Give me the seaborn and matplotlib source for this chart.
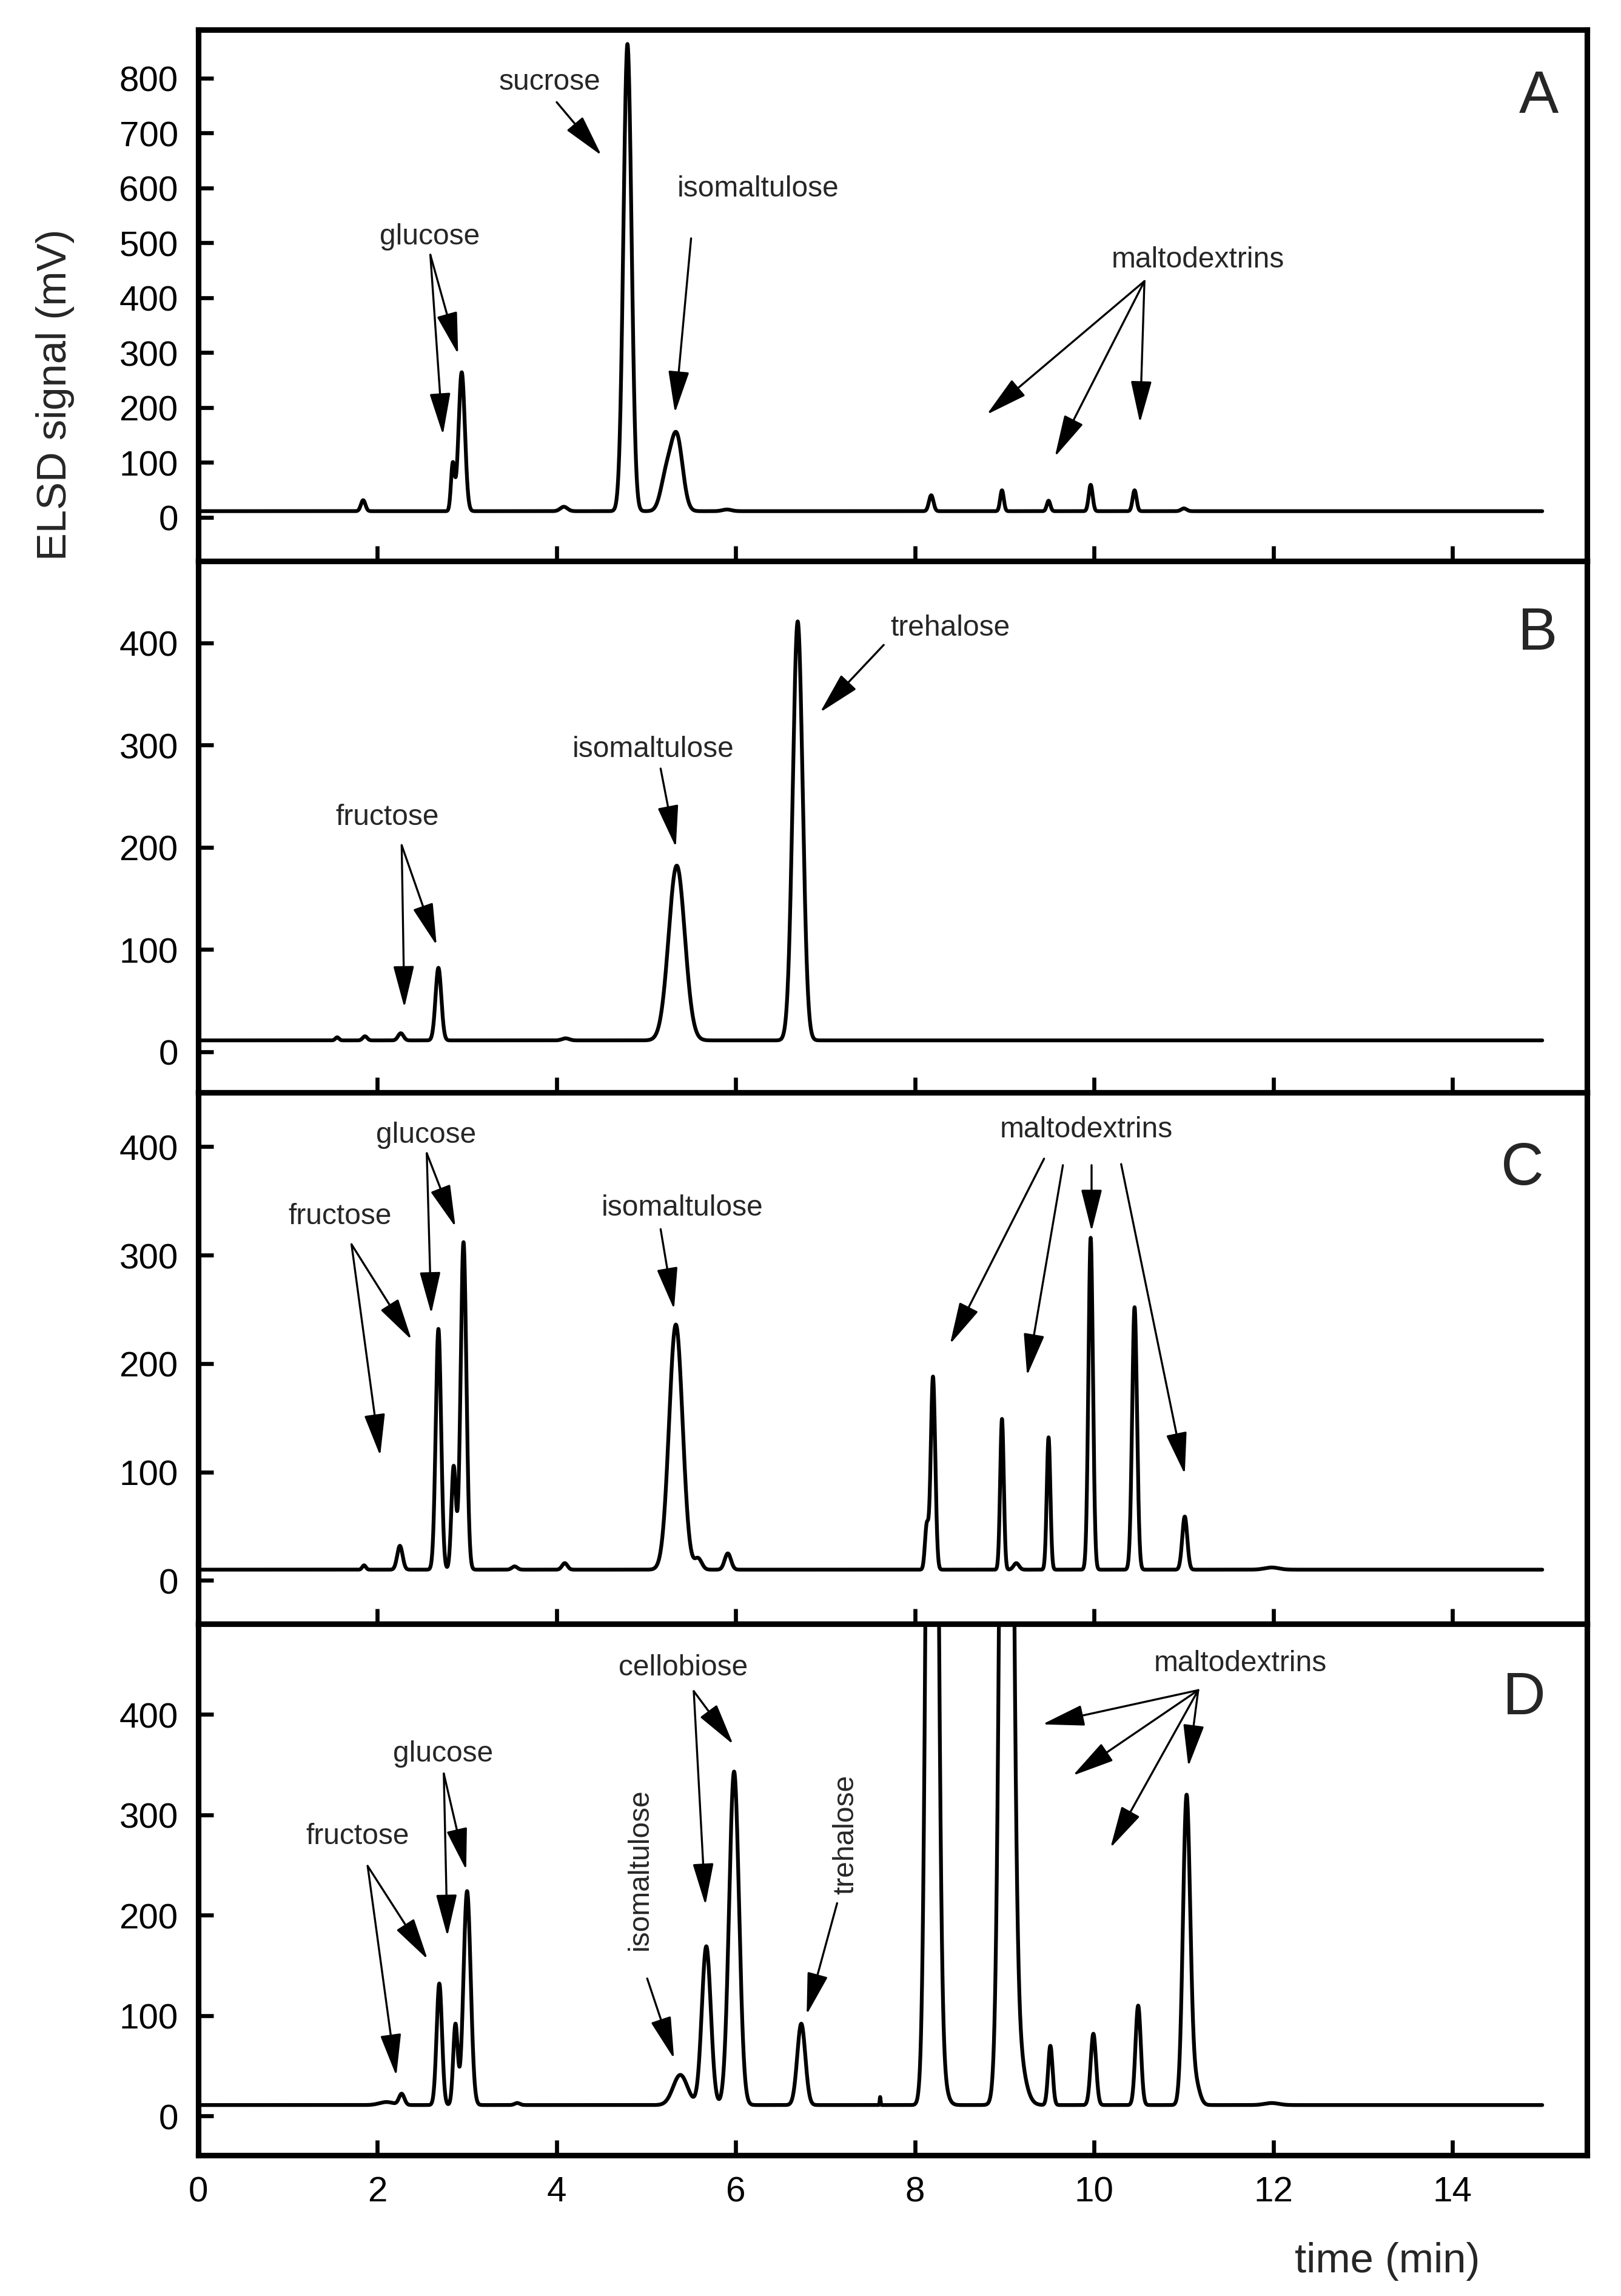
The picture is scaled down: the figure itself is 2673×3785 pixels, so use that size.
import numpy as np
import pandas as pd
import matplotlib
matplotlib.use("Agg")
import matplotlib.pyplot as plt
import seaborn as sns

# ---------------- data ----------------
# each peak: retention time (min), height above baseline (mV), peak sigma (min)
A_rt     = [1.84, 2.84, 2.94, 4.08, 4.79, 5.22, 5.34, 5.90, 8.18, 8.97, 9.49, 9.96, 10.45, 11.00]
A_height = [20, 85, 253, 8, 851, 60, 135, 3, 29, 38, 19, 48, 38, 5]
A_sigma  = [0.025, 0.02, 0.035, 0.04, 0.045, 0.06, 0.065, 0.05, 0.025, 0.02, 0.02, 0.022, 0.022, 0.03]
A_baseline = 11

B_rt     = [1.55, 1.86, 2.26, 2.68, 4.10, 5.34, 6.69]
B_height = [3, 4, 7, 71, 2, 171, 410]
B_sigma  = [0.02, 0.025, 0.03, 0.032, 0.04, 0.09, 0.055]
B_baseline = 11

C_rt     = [1.85, 2.25, 2.68, 2.85, 2.96, 3.53, 4.09, 5.33, 5.58, 5.91,
            8.13, 8.20, 8.97, 9.13, 9.49, 9.96, 10.45, 11.01, 11.98]
C_height = [4, 22, 222, 95, 302, 3, 6, 226, 10, 15,
            40, 178, 139, 6, 122, 306, 242, 49, 2]
C_sigma  = [0.02, 0.03, 0.03, 0.025, 0.032, 0.03, 0.03, 0.075, 0.04, 0.035,
            0.02, 0.025, 0.02, 0.03, 0.02, 0.025, 0.027, 0.028, 0.08]
C_baseline = 10

D_rt     = [2.10, 2.27, 2.69, 2.87, 3.00, 3.56, 5.38, 5.67, 5.98, 6.73, 7.61,
            8.19, 8.28, 9.02, 9.10, 9.51, 9.99, 10.49, 11.03, 11.12, 11.98]
D_height = [3, 11, 121, 80, 213, 2, 30, 158, 332, 81, 8,
            1500, 30, 1500, 80, 59, 71, 99, 304, 25, 2]
D_sigma  = [0.08, 0.03, 0.03, 0.025, 0.04, 0.03, 0.08, 0.05, 0.055, 0.045, 0.005,
            0.05, 0.06, 0.055, 0.09, 0.025, 0.03, 0.03, 0.04, 0.05, 0.08]
D_baseline = 11

run_end = 15.0          # min, end of recorded trace
x_ticks = [0, 2, 4, 6, 8, 10, 12, 14]
panel_letters = ["A", "B", "C", "D"]

# ---------------- build traces ----------------
time = np.arange(0.0, run_end + 1e-9, 0.002)

def trace(rt, h, s, base):
    y = np.full_like(time, float(base))
    for t0, hh, ss in zip(rt, h, s):
        y += hh * np.exp(-0.5 * ((time - t0) / ss) ** 2)
    return y

panels = [
    dict(df=pd.DataFrame({"time": time, "signal": trace(A_rt, A_height, A_sigma, A_baseline)}),
         ylim=(-80, 888), yticks=list(range(0, 801, 100))),
    dict(df=pd.DataFrame({"time": time, "signal": trace(B_rt, B_height, B_sigma, B_baseline)}),
         ylim=(-40, 480), yticks=list(range(0, 401, 100))),
    dict(df=pd.DataFrame({"time": time, "signal": trace(C_rt, C_height, C_sigma, C_baseline)}),
         ylim=(-40, 450), yticks=list(range(0, 401, 100))),
    dict(df=pd.DataFrame({"time": time, "signal": trace(D_rt, D_height, D_sigma, D_baseline)}),
         ylim=(-39, 490), yticks=list(range(0, 401, 100))),
]

# annotations: (label, text position, rotation, arrow start, [arrow tips])
annotations = [
    [("sucrose", (3.92, 793), 0, (4.00, 756), [(4.50, 659)]),
     ("isomaltulose", (6.25, 599), 0, (5.50, 508), [(5.32, 190)]),
     ("glucose", (2.58, 512), 0, (2.59, 478), [(2.73, 150), (2.90, 297)]),
     ("maltodextrins", (11.16, 470), 0, (10.56, 430), [(8.80, 187), (9.56, 110), (10.51, 172)])],
    [("fructose", (2.11, 230), 0, (2.27, 202), [(2.30, 43), (2.66, 104)]),
     ("isomaltulose", (5.08, 296), 0, (5.16, 277), [(5.33, 200)]),
     ("trehalose", (8.39, 415), 0, (7.65, 398), [(6.94, 332)])],
    [("fructose", (1.58, 336), 0, (1.71, 310), [(2.03, 115), (2.38, 222)]),
     ("glucose", (2.54, 411), 0, (2.55, 394), [(2.60, 246), (2.87, 326)]),
     ("isomaltulose", (5.40, 344), 0, (5.16, 324), [(5.31, 250)]),
     ("maltodextrins", (9.91, 416), 0, None, None)],
    [("fructose", (1.78, 279), 0, (1.89, 249), [(2.21, 40), (2.56, 156)]),
     ("glucose", (2.73, 361), 0, (2.74, 341), [(2.78, 179), (2.99, 245)]),
     ("cellobiose", (5.41, 447), 0, (5.53, 423), [(5.66, 210), (5.97, 370)]),
     ("isomaltulose", (4.93, 246), 90, (5.01, 137), [(5.31, 57)]),
     ("trehalose", (7.23, 281), 90, (7.13, 212), [(6.79, 101)]),
     ("maltodextrins", (11.63, 451), 0, (11.16, 424),
      [(9.42, 390), (9.76, 339), (10.18, 267), (11.05, 348)])],
]
# panel C maltodextrin arrows each start at their own point
C_malto_arrows = [((9.44, 389), (8.39, 218)), ((9.65, 383), (9.25, 189)),
                  ((9.97, 383), (9.97, 322)), ((10.30, 384), (11.01, 98))]
letter_pos = [(14.96, 766), (14.95, 409), (14.78, 380), (14.80, 416)]

# ---------------- style ----------------
sns.set_theme(style="ticks")
plt.rcParams["font.family"] = ["Liberation Sans", "DejaVu Sans"]
plt.rcParams["axes.linewidth"] = 2.2

W, H = 2673, 3786
fig = plt.figure(figsize=(W / 300, H / 300), dpi=300)
left, right = 327 / W, 2617 / W
top, bottom = 1 - 50 / H, 1 - 3554 / H
ph = (top - bottom) / 4

arrow_kw = dict(arrowstyle="-|>,head_length=0.72,head_width=0.18", color="black",
                lw=0.8, shrinkA=0, shrinkB=0, mutation_scale=20)

axes = []
for i, p in enumerate(panels):
    ax = fig.add_axes([left, top - (i + 1) * ph, right - left, ph])
    axes.append(ax)
    sns.lineplot(data=p["df"], x="time", y="signal", ax=ax, color="black",
                 lw=1.5, estimator=None, sort=False)
    ax.set_xlim(0, 15.5)
    ax.set_ylim(*p["ylim"])
    ax.set_yticks(p["yticks"])
    ax.set_xticks(x_ticks)
    ax.tick_params(axis="both", direction="in", length=6, width=1.6,
                   labelsize=14, pad=8, colors="black")
    ax.set_xlabel("")
    ax.set_ylabel("")
    for sp in ax.spines.values():
        sp.set_visible(True)
        sp.set_linewidth(2.2)
        sp.set_color("black")
    if i < 3:
        ax.tick_params(axis="x", labelbottom=False)
    ax.text(*letter_pos[i], panel_letters[i], fontsize=23.5, ha="center", va="center")

    for label, tpos, rot, start, tips in annotations[i]:
        ax.text(*tpos, label, fontsize=11.5, ha="center", va="center", rotation=rot)
        if start is not None:
            for tip in tips:
                ax.annotate("", xy=tip, xytext=start, arrowprops=arrow_kw)
    if i == 2:
        for start, tip in C_malto_arrows:
            ax.annotate("", xy=tip, xytext=start, arrowprops=arrow_kw)

fig.text(91 / W, 1 - 651 / H, "ELSD signal (mV)", rotation=90, fontsize=16.5,
         ha="center", va="center")
fig.text(2288 / W, 1 - 3728 / H, "time (min)", fontsize=16.5, ha="center", va="center")

fig.savefig("out.png", dpi=300, facecolor="white")
